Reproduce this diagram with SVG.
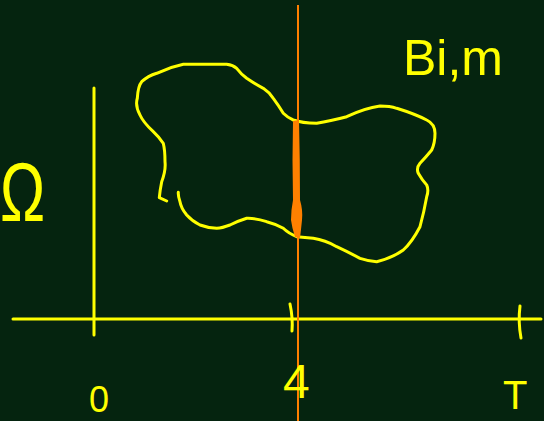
<svg xmlns="http://www.w3.org/2000/svg" width="544" height="421" viewBox="0 0 544 421">
<style>
.y{fill:none;stroke:#ffff00;stroke-width:3;stroke-linecap:round;stroke-linejoin:round}
.t{fill:#ffff00;font-family:"Liberation Sans",Arial,sans-serif}
</style>
<rect x="0" y="0" width="544" height="421" fill="#05240f"/>
<g id="axes">
<line class="y" x1="94" y1="88" x2="94" y2="335"/>
<line class="y" x1="13" y1="319" x2="541" y2="319"/>
<path class="y" d="M290 304 Q293 318 292 331"/>
<path class="y" d="M520 306 Q518 322 521 338"/>
</g>
<g id="region">
<path class="y" d="M166.7 201 L159.3 197.7 Q160 190 161.7 181.7 Q166 170 165 161.7 Q165 150 163.3 143.3 Q158 136 153.3 131.7 Q143 122 140 115 Q135 106 137.3 98.3 Q138 86 141.7 81.7 Q148 76 156.7 73.3 Q170 67 183.3 64.3 L226.7 64.3 Q233 65 236.7 68.3 Q241 74 246.7 78.3 Q255 84 263.3 88.3 Q269 92 273.3 98.3 Q279 106 283.3 113.3 Q288 118 293.3 120 Q302 123 316.7 123.3 Q330 121 346.7 116.7 Q365 108 380 106 Q390 106 396.7 108.3 Q415 114 426.7 120 Q435 124 435 133.3 Q435 143 431.7 150 Q426 157 420 163.3 Q416 168 418.3 173.3 Q422 180 426.7 185 Q429 190 426.7 196.7 Q424 212 420 226.7 Q412 242 403.3 250 Q392 258 376.7 261.7 Q368 261 360 258.3 Q348 252 336.7 246.7 Q325 240 313.3 238.3 Q300 237 296.7 236.7 Q288 233 283.3 228.3 Q276 224 266.7 221.7 Q256 218 246.7 218.3 Q238 221 230 225 Q222 228 216.7 228.3 Q208 228 200 225 Q192 221 186.7 215 Q181 208 180 201.7 Q178 196 178.3 192.3"/>
</g>
<g id="cut">
<line x1="298" y1="5" x2="298" y2="421" stroke="#ff8000" stroke-width="2"/>
<path d="M293 121 L299 120 Q300 160 300 200 Q303 210 302 220 Q301 230 300 238 L295 237 Q292 228 291 220 Q291 210 293 200 Q292 160 293 121 Z" fill="#ff8000"/>
</g>
<g id="labels">
<text class="t" x="0" y="221" font-size="84" transform="scale(0.72 1)">Ω</text>
<text class="t" x="403" y="75" font-size="50">Bi,m</text>
<text class="t" x="283" y="398" font-size="48">4</text>
<text class="t" x="99" y="412" font-size="36" text-anchor="middle">0</text>
<text class="t" x="503" y="409" font-size="40">T</text>
</g>
</svg>
